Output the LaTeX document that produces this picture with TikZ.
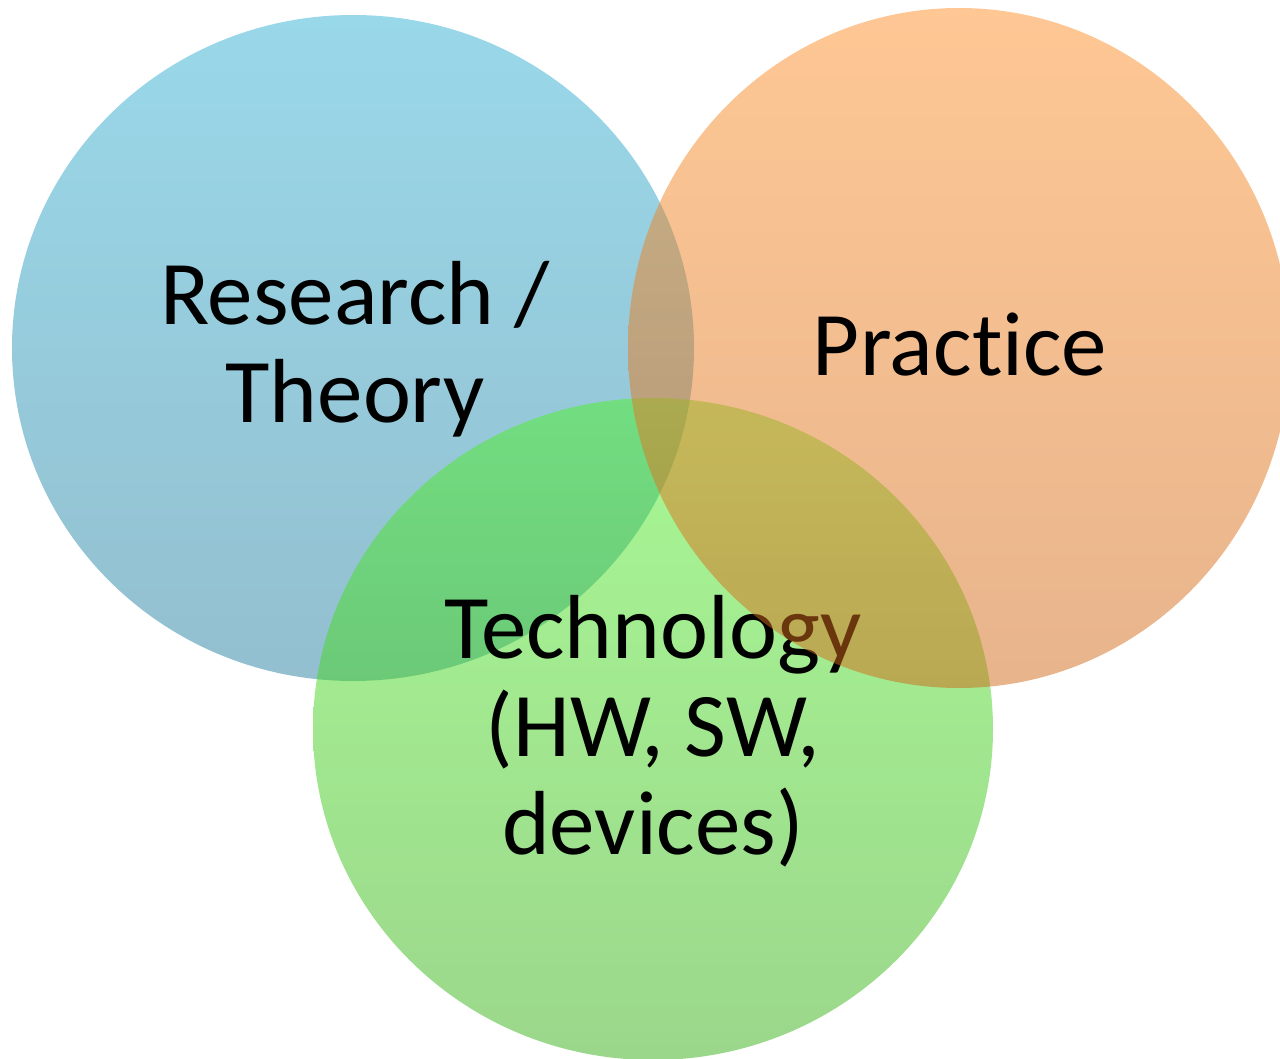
\documentclass[tikz,border=0pt]{standalone}
\usepackage{fontspec}
\setmainfont[Ligatures={NoCommon}]{Carlito}
\definecolor{blueTop}{RGB}{153,216,233}
\definecolor{blueBot}{RGB}{147,191,207}
\definecolor{greenTop}{RGB}{81,241,41}
\definecolor{greenBot}{RGB}{55,175,23}
\definecolor{orangeTop}{RGB}{253,143,41}
\definecolor{orangeBot}{RGB}{209,105,25}
\tikzset{
  lbl/.style={align=center, font=\fontsize{91}{98}\selectfont, text=black, inner sep=0pt},
  blob/.style={draw=none}
}
\begin{document}
\begin{tikzpicture}[x=1pt,y=-1pt]
\useasboundingbox (0,0) rectangle (1280,1059);
\begin{scope}
\clip (0,0) rectangle (1280,1059);
\shade[blob, top color=blueTop, bottom color=blueBot] (353,348) ellipse [x radius=341pt, y radius=333pt];
\node[lbl] (research) at (355,349) {Research /\\Theory};
\shade[blob, top color=greenTop, bottom color=greenBot, opacity=0.5] (653,729) ellipse [x radius=340pt, y radius=331pt];
\node[lbl] (tech) at (653,731) {Technology\\(HW, SW,\\devices)};
\shade[blob, top color=orangeTop, bottom color=orangeBot, opacity=0.5] (959,348) ellipse [x radius=331pt, y radius=340pt];
\node[lbl, anchor=base] (practice) at (960,375) {Practice};
\end{scope}
\end{tikzpicture}
\end{document}
